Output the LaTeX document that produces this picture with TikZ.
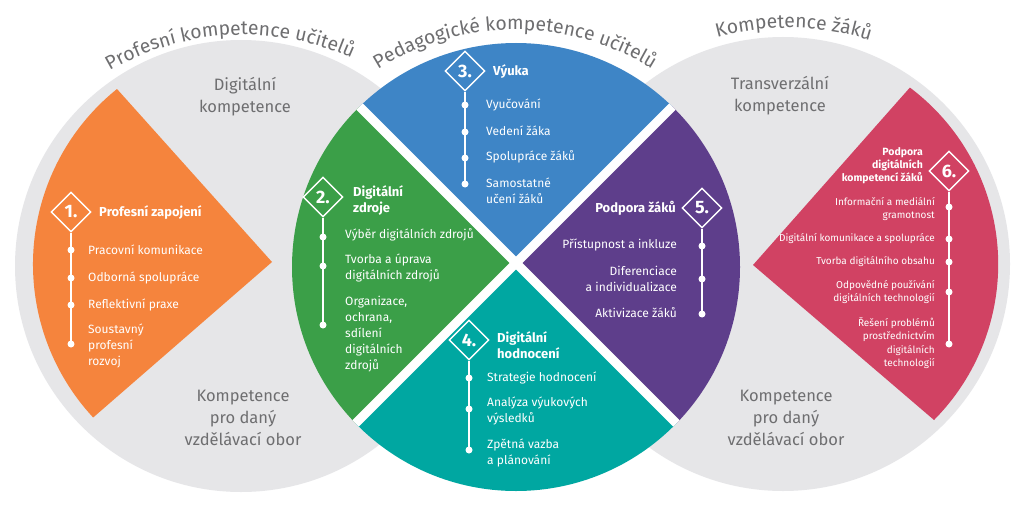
\documentclass[tikz,border=0pt]{standalone}
\usepackage{fontspec}
\setmainfont{Fira Sans}
\usetikzlibrary{shapes.geometric,decorations.text}
\definecolor{cgrey}{HTML}{E6E6E8}
\definecolor{gtext}{HTML}{6E6E70}
\definecolor{corange}{HTML}{F5843D}
\definecolor{cgreen}{HTML}{3B9F48}
\definecolor{cblue}{HTML}{3E85C6}
\definecolor{cteal}{HTML}{00A7A1}
\definecolor{cpurple}{HTML}{5E3E8B}
\definecolor{cpink}{HTML}{D14263}
\newcommand{\titlef}{\fontsize{19.3}{19.3}\selectfont}
\begin{document}
\begin{tikzpicture}[x=1pt,y=1pt,
  dia/.style={diamond, draw=white, line width=1.4pt, minimum width=40pt, minimum height=40pt, inner sep=0pt, text=white, font=\fontsize{18}{18}\selectfont\bfseries},
  wline/.style={white, line width=1.5pt},
  dot/.style={circle, fill=white, inner sep=0pt, minimum size=7pt},
  iteml/.style={text=white, font=\fontsize{12}{16}\selectfont, inner sep=0pt, align=left, anchor=west},
  itemr/.style={text=white, font=\fontsize{12}{16}\selectfont, inner sep=0pt, align=right, anchor=east},
  smallr/.style={text=white, font=\fontsize{10}{13.5}\selectfont, inner sep=0pt, align=right, anchor=east},
  ttll/.style={text=white, font=\fontsize{13}{16}\selectfont\bfseries, inner sep=0pt, align=left, anchor=west},
  ttlr/.style={text=white, font=\fontsize{13}{16}\selectfont\bfseries, inner sep=0pt, align=right, anchor=east},
  smallttl/.style={text=white, font=\fontsize{10.5}{13}\selectfont\bfseries, inner sep=0pt, align=right, anchor=east},
  glab/.style={text=gtext, font=\fontsize{16.5}{22}\selectfont, align=center, inner sep=0pt},
  arctitle/.style={decorate, decoration={text along path, text align=center, text color=gtext}}
]
\useasboundingbox (0,0) rectangle (1024,-519);
\fill[white] (0,0) rectangle (1024,-519);
% grey circles
\fill[cgrey] (241,-266) circle (226);
\fill[cgrey] (783,-264) circle (227);
% outer sectors
\fill[corange] (272,-262) -- (117,-89) arc[start angle=128.8, end angle=222.9, radius=225] -- cycle;
\fill[cpink] (753,-265) -- (934,-420) arc[start angle=-44.8, end angle=53.1, radius=221] -- cycle;
% middle circle
\coordinate (M) at (516,-263);
\begin{scope}
\clip (516,-267) circle (224);
\fill[cgreen] (M) -- +(135:400) -- +(225:400) -- cycle;
\fill[cblue] (M) -- +(45:400) -- +(135:400) -- cycle;
\fill[cpurple] (M) -- +(-45:400) -- +(45:400) -- cycle;
\fill[cteal] (M) -- +(225:400) -- +(315:400) -- cycle;
\draw[white, line width=9pt] (M) +(135:300) -- +(-45:300);
\draw[white, line width=9pt] (M) +(45:300) -- +(225:300);
\end{scope}
% arc titles
\path[arctitle, decoration={text={|\titlef|Profesní kompetence učitelů}}] ([shift={(153:265)}]243,-300) arc[start angle=153, end angle=33, radius=265];
\path[arctitle, decoration={text={|\titlef|Pedagogické kompetence učitelů}}] ([shift={(150:260)}]515,-290) arc[start angle=150, end angle=30, radius=260];
\path[arctitle, decoration={text={|\titlef|Kompetence žáků}}] ([shift={(149:272)}]789,-300) arc[start angle=149, end angle=29, radius=272];
% grey labels
\node[glab] (g1) at (245,-97) {Digitální\\kompetence};
\node[glab] (g2) at (243,-418) {Kompetence\\pro daný\\vzdělávací obor};
\node[glab] (g3) at (780,-96) {Transverzální\\kompetence};
\node[glab] (g4) at (786,-418) {Kompetence\\pro daný\\vzdělávací obor};
% section 1
\node[dia] (d1) at (71,-212) {1.};
\node[ttll] (t1) at (99,-213) {Profesní zapojení};
\node[dot] (d1a) at (71,-250) {};
\node[dot] (d1b) at (71,-278) {};
\node[dot] (d1c) at (71,-305) {};
\node[dot] (d1d) at (71,-344) {};
\draw[wline] (d1.south) -- (d1d.center);
\node[iteml] (i1a) at (88,-250) {Pracovní komunikace};
\node[iteml] (i1b) at (88,-278) {Odborná spolupráce};
\node[iteml] (i1c) at (88,-305) {Reflektivní praxe};
\node[iteml] (i1d) at (88,-346) {Soustavný\\profesní\\rozvoj};
% section 2
\node[dia] (d2) at (323,-197) {2.};
\node[ttll] (t2) at (353,-201) {Digitální\\zdroje};
\node[dot] (d2a) at (323,-237) {};
\node[dot] (d2b) at (323,-266) {};
\node[dot] (d2c) at (323,-325) {};
\draw[wline] (d2.south) -- (d2c.center);
\node[iteml] (i2a) at (345,-235) {Výběr digitálních zdrojů};
\node[iteml] (i2b) at (345,-268) {Tvorba a úprava\\digitálních zdrojů};
\node[iteml] (i2c) at (345,-334) {Organizace,\\ochrana,\\sdílení\\digitálních\\zdrojů};
% section 3
\node[dia] (d3) at (465,-71) {3.};
\node[ttll] (t3) at (493,-72) {Výuka};
\node[dot] (d3a) at (465,-105) {};
\node[dot] (d3b) at (465,-132) {};
\node[dot] (d3c) at (465,-158) {};
\node[dot] (d3d) at (465,-184) {};
\draw[wline] (d3.south) -- (d3d.center);
\node[iteml] (i3a) at (486,-105) {Vyučování};
\node[iteml] (i3b) at (486,-131) {Vedení žáka};
\node[iteml] (i3c) at (486,-157) {Spolupráce žáků};
\node[iteml] (i3d) at (486,-191) {Samostatné\\učení žáků};
% section 4
\node[dia] (d4) at (469,-340) {4.};
\node[ttll] (t4) at (497,-345) {Digitální\\hodnocení};
\node[dot] (d4a) at (469,-378) {};
\node[dot] (d4b) at (469,-409) {};
\node[dot] (d4c) at (469,-450) {};
\draw[wline] (d4.south) -- (d4c.center);
\node[iteml] (i4a) at (487,-378) {Strategie hodnocení};
\node[iteml] (i4b) at (487,-411) {Analýza výukových\\výsledků};
\node[iteml] (i4c) at (487,-453) {Zpětná vazba\\a plánování};
% section 5
\node[dia] (d5) at (702,-208) {5.};
\node[ttlr] (t5) at (676,-208) {Podpora žáků};
\node[dot] (d5a) at (702,-246) {};
\node[dot] (d5b) at (702,-279) {};
\node[dot] (d5c) at (702,-314) {};
\draw[wline] (d5.south) -- (d5c.center);
\node[itemr] (i5a) at (677,-245) {Přístupnost a inkluze};
\node[itemr] (i5b) at (677,-279) {Diferenciace\\a individualizace};
\node[itemr] (i5c) at (677,-313) {Aktivizace žáků};
% section 6
\node[dia] (d6) at (949,-171) {6.};
\node[smallttl] (t6) at (923,-166) {Podpora\\digitálních\\kompetencí žáků};
\node[dot] (d6a) at (949,-207) {};
\node[dot] (d6b) at (949,-239) {};
\node[dot] (d6c) at (949,-262) {};
\node[dot] (d6d) at (949,-292) {};
\node[dot] (d6e) at (949,-344) {};
\draw[wline] (d6.south) -- (d6e.center);
\node[smallr] (i6a) at (935,-209) {Informační a mediální\\gramotnost};
\node[smallr] (i6b) at (935,-239) {Digitální komunikace a spolupráce};
\node[smallr] (i6c) at (935,-262) {Tvorba digitálního obsahu};
\node[smallr] (i6d) at (935,-292) {Odpovědné používání\\digitálních technologií};
\node[smallr] (i6e) at (935,-343) {Řešení problémů\\prostřednictvím\\digitálních\\technologií};
\end{tikzpicture}
\end{document}
